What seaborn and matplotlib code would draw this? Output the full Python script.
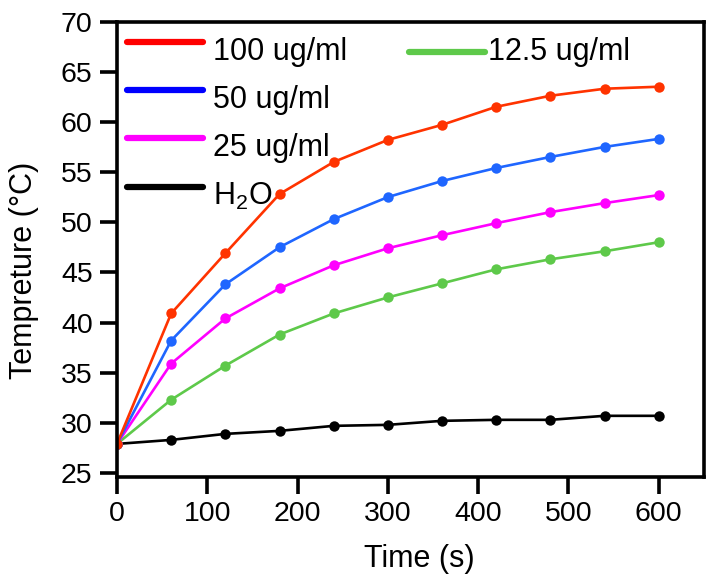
import matplotlib
matplotlib.use("Agg")
import matplotlib.pyplot as plt
import seaborn as sns
import pandas as pd
from matplotlib.lines import Line2D
from matplotlib.legend_handler import HandlerLine2D

# Heating curves: temperature vs irradiation time
time_s = [0, 60, 120, 180, 240, 300, 360, 420, 480, 540, 600]
temp_100 = [27.9, 40.9, 46.9, 52.8, 56.0, 58.2, 59.7, 61.5, 62.6, 63.3, 63.5]
temp_50 = [27.9, 38.2, 43.8, 47.5, 50.3, 52.5, 54.1, 55.4, 56.5, 57.5, 58.3]
temp_25 = [27.9, 35.9, 40.4, 43.4, 45.7, 47.4, 48.7, 49.9, 51.0, 51.9, 52.7]
temp_12_5 = [27.9, 32.3, 35.7, 38.8, 40.9, 42.5, 43.9, 45.3, 46.3, 47.1, 48.0]
temp_h2o = [27.9, 28.3, 28.9, 29.2, 29.7, 29.8, 30.2, 30.3, 30.3, 30.7, 30.7]

groups = ["100 ug/ml", "50 ug/ml", "25 ug/ml", "12.5 ug/ml", "H$_2$O"]
series = [temp_100, temp_50, temp_25, temp_12_5, temp_h2o]
line_colors = ["#FF3300", "#1F66FF", "#FF00FF", "#5EC94A", "#000000"]
legend_colors = ["#FF0000", "#0000FF", "#FF00FF", "#5EC94A", "#000000"]

x_ticks = [0, 100, 200, 300, 400, 500, 600]
y_ticks = [25, 30, 35, 40, 45, 50, 55, 60, 65, 70]

rows = []
for g, vals in zip(groups, series):
    for t, v in zip(time_s, vals):
        rows.append({"Time": t, "Temp": v, "Group": g})
df = pd.DataFrame(rows)

sns.set_theme(style="ticks")
plt.rcParams["font.family"] = ["Liberation Sans", "DejaVu Sans"]
plt.rcParams["mathtext.fontset"] = "custom"
plt.rcParams["mathtext.rm"] = "Liberation Sans"
plt.rcParams["mathtext.it"] = "Liberation Sans"
plt.rcParams["text.color"] = "black"
plt.rcParams["axes.labelcolor"] = "black"

fig = plt.figure(figsize=(7.06, 5.78), dpi=100)
ax = fig.add_axes([0.1657, 0.1747, 0.8313, 0.7881])

palette = dict(zip(groups, line_colors))
draw_order = list(reversed(groups))
sns.lineplot(data=df, x="Time", y="Temp", hue="Group", hue_order=draw_order,
             palette=palette, marker="o", markersize=7.5, markeredgewidth=0,
             linewidth=1.9, legend=False, ax=ax)

ax.set_xlim(0, 650)
ax.set_ylim(24.6, 70)
ax.set_xticks(x_ticks)
ax.set_yticks(y_ticks)
ax.tick_params(axis="both", which="major", length=12, width=2.6,
               labelsize=20.5, color="black", labelcolor="black", direction="out")
ax.tick_params(axis="x", pad=5)
ax.tick_params(axis="y", pad=5.5)
for sp in ax.spines.values():
    sp.set_linewidth(2.6)
    sp.set_color("black")
    sp.set_visible(True)

ax.set_xlabel("Time (s)", fontsize=22)
ax.set_ylabel("Tempreture (°C)", fontsize=22)
ax.xaxis.set_label_coords(0.515, -0.148)
ax.yaxis.set_label_coords(-0.133, 0.454)


class ShiftedLine(HandlerLine2D):
    """Legend line drawn with a vertical offset from the centre of its label."""
    def __init__(self, shift=0.0, **kw):
        super().__init__(**kw)
        self.shift = shift

    def create_artists(self, legend, orig_handle, xdescent, ydescent,
                       width, height, fontsize, trans):
        arts = super().create_artists(legend, orig_handle, xdescent, ydescent,
                                      width, height, fontsize, trans)
        for a in arts:
            a.set_ydata([y + self.shift for y in a.get_ydata()])
        return arts


def handle(c):
    return Line2D([], [], color=c, linewidth=4.5)

base_kw = dict(frameon=False, fontsize=22, handlelength=2.48,
               labelspacing=0.59, borderaxespad=0.0, borderpad=0.0)
left_idx = [0, 1, 2, 4]
leg1 = ax.legend([handle(legend_colors[i]) for i in left_idx],
                 [groups[i] for i in left_idx],
                 loc="upper left", bbox_to_anchor=(0.017, 0.967),
                 handletextpad=0.33, handler_map={Line2D: ShiftedLine(5.0)},
                 **base_kw)
ax.add_artist(leg1)
ax.legend([handle(legend_colors[3])], [groups[3]],
          loc="upper left", bbox_to_anchor=(0.498, 0.967),
          handletextpad=0.1, handler_map={Line2D: ShiftedLine(-2.0)},
          **base_kw)

fig.savefig("out.png", dpi=100)
